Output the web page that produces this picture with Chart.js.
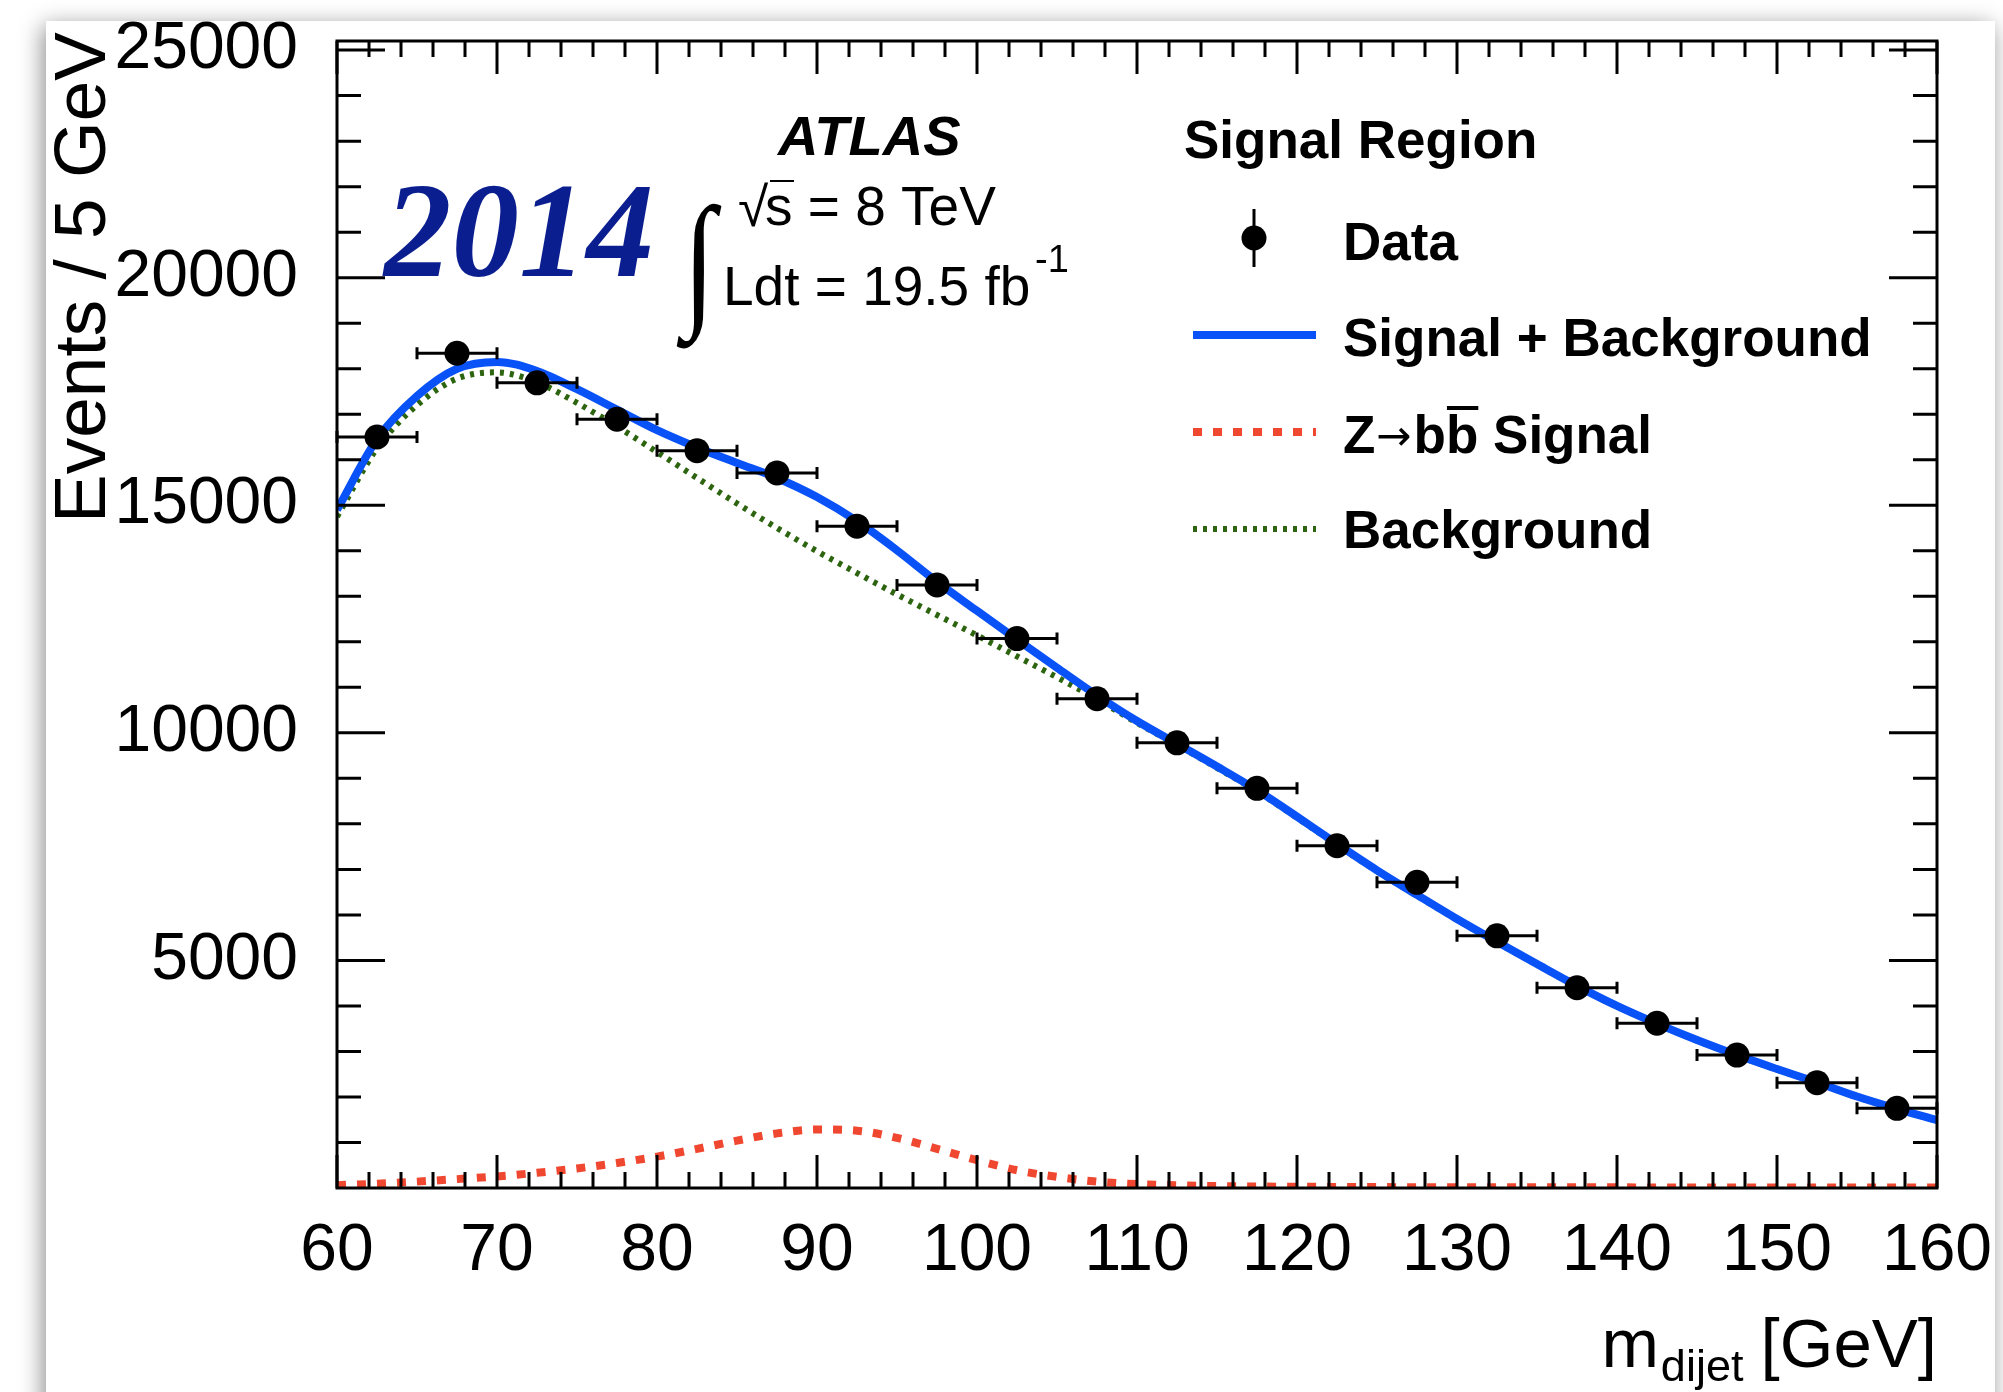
<!DOCTYPE html>
<html>
<head>
<meta charset="utf-8">
<script src="https://cdn.jsdelivr.net/npm/chart.js@4.4.1/dist/chart.umd.min.js"></script>
<style>
  html, body { margin: 0; padding: 0; background: #fff; overflow: hidden; }
  #card { position: absolute; left: 46px; top: 21px; width: 1949px; height: 1450px; background: #fff;
          box-shadow: -3px 5px 22px rgba(0,0,0,0.45); }
  #c { position: absolute; left: 0; top: 0; }
</style>
</head>
<body>
<div id="card"></div>
<canvas id="c" width="2003" height="1392"></canvas>
<script>
// data histogram, 5 GeV bins
const binCenters = [62.5, 67.5, 72.5, 77.5, 82.5, 87.5, 92.5, 97.5, 102.5, 107.5,
                    112.5, 117.5, 122.5, 127.5, 132.5, 137.5, 142.5, 147.5, 152.5, 157.5];
const dataEvents = [16500, 18340, 17690, 16890, 16200, 15710, 14540, 13250, 12070, 10750,
                    9780, 8780, 7520, 6715, 5540, 4400, 3620, 2920, 2315, 1750];
const binHalfWidth = 2.5;

// fit curves, sampled every 2.5 GeV
const fitMass = [60, 62.5, 65, 67.5, 70, 72.5, 75, 77.5, 80, 82.5, 85, 87.5, 90, 92.5, 95, 97.5,
                 100, 102.5, 105, 107.5, 110, 112.5, 115, 117.5, 120, 122.5, 125, 127.5, 130, 132.5,
                 135, 137.5, 140, 142.5, 145, 147.5, 150, 152.5, 155, 157.5, 160];
const sigPlusBkg = [14900, 16450, 17400, 18000, 18150, 17950, 17550, 17100, 16650, 16270, 15930, 15600,
                    15180, 14650, 14010, 13320, 12680, 12050, 11430, 10820, 10260, 9760, 9260, 8740,
                    8160, 7560, 6980, 6440, 5910, 5410, 4920, 4440, 4000, 3610, 3250, 2920, 2615,
                    2320, 2010, 1740, 1490];
const zbbSignal = [62, 95, 140, 195, 255, 335, 430, 550, 690, 860, 1040, 1200, 1285, 1260, 1100, 860,
                   610, 390, 245, 140, 85, 58, 42, 33, 27, 23, 20, 18, 17, 16, 15, 14, 14, 13, 13,
                   12, 12, 12, 11, 11, 11];
const backgroundFit = [14750, 16250, 17200, 17780, 17920, 17700, 17250, 16730, 16170, 15600, 15040,
                       14500, 13990, 13510, 13040, 12590, 12140, 11680, 11220, 10740, 10220, 9735,
                       9230, 8715, 8135, 7537, 6960, 6422, 5893, 5394, 4905, 4426, 3986, 3597, 3237,
                       2908, 2603, 2308, 1999, 1729, 1479];

const xTickLabels = [60, 70, 80, 90, 100, 110, 120, 130, 140, 150, 160];
const yTickLabels = [5000, 10000, 15000, 20000, 25000];

const BLUE = 'rgb(8, 82, 247)';
const RED = 'rgb(240, 72, 48)';
const GREEN = 'rgb(45, 100, 15)';
const FONT = '"Liberation Sans", Arial, sans-serif';

Chart.defaults.font.family = FONT;
Chart.defaults.color = '#000';

const pts = (xs, ys) => xs.map((x, i) => ({x: x, y: ys[i]}));

// ROOT style frame with inward ticks
const frame = {
  id: 'frame',
  afterDatasetsDraw(chart) {
    const ctx = chart.ctx;
    const xs = chart.scales.x, ys = chart.scales.y;
    const {left, right, top, bottom} = chart.chartArea;
    ctx.save();
    // error bars
    ctx.strokeStyle = '#000';
    ctx.lineWidth = 3;
    ctx.beginPath();
    binCenters.forEach((c, i) => {
      const y = ys.getPixelForValue(dataEvents[i]);
      const x1 = xs.getPixelForValue(c - binHalfWidth), x2 = xs.getPixelForValue(c + binHalfWidth);
      ctx.moveTo(x1, y); ctx.lineTo(x2, y);
      ctx.moveTo(x1, y - 6); ctx.lineTo(x1, y + 6);
      ctx.moveTo(x2, y - 6); ctx.lineTo(x2, y + 6);
    });
    ctx.stroke();

    ctx.beginPath();
    for (let v = 60; v <= 160; v += 2) {
      const px = xs.getPixelForValue(v);
      const len = (v % 10 === 0) ? 33 : 16;
      ctx.moveTo(px, bottom); ctx.lineTo(px, bottom - len);
      ctx.moveTo(px, top); ctx.lineTo(px, top + len);
    }
    for (let v = 1000; v <= 25000; v += 1000) {
      const py = ys.getPixelForValue(v);
      const len = (v % 5000 === 0) ? 48 : 24;
      ctx.moveTo(left, py); ctx.lineTo(left + len, py);
      ctx.moveTo(right, py); ctx.lineTo(right - len, py);
    }
    ctx.stroke();
    ctx.strokeRect(left, top, right - left, bottom - top);
    ctx.restore();
  },
  afterDraw(chart) {
    const ctx = chart.ctx;
    const ds = chart.data.datasets;
    ctx.save();
    ctx.fillStyle = '#000';
    ctx.textBaseline = 'alphabetic';

    // y axis title
    ctx.save();
    ctx.translate(105, 32);
    ctx.rotate(-Math.PI / 2);
    ctx.textAlign = 'right';
    ctx.font = '73px ' + FONT;
    ctx.fillText('Events / 5 GeV', 0, 0);
    ctx.restore();

    // x axis title m_dijet [GeV]
    ctx.textAlign = 'left';
    ctx.font = '69px ' + FONT;
    const wm = ctx.measureText('m').width;
    const wg = ctx.measureText(' [GeV]').width;
    ctx.font = '45px ' + FONT;
    const wd = ctx.measureText('dijet').width;
    let x0 = 1937 - wm - wd - wg;
    ctx.font = '69px ' + FONT;
    ctx.fillText('m', x0, 1367);
    ctx.font = '45px ' + FONT;
    ctx.fillText('dijet', x0 + wm + 2, 1381);
    ctx.font = '69px ' + FONT;
    ctx.fillText(' [GeV]', x0 + wm + wd, 1367);

    // year stamp
    ctx.fillStyle = '#0a1e8f';
    ctx.font = 'italic bold 135px "Liberation Serif", serif';
    ctx.fillText('2014', 384, 276);

    // ATLAS block
    ctx.fillStyle = '#000';
    ctx.font = 'italic bold 56px ' + FONT;
    ctx.fillText('ATLAS', 778, 155);
    ctx.font = '55px ' + FONT;
    ctx.fillText('\u221A', 738, 226);
    ctx.fillText('s = 8 TeV', 765, 225);
    ctx.lineWidth = 2;
    ctx.beginPath(); ctx.moveTo(770, 181); ctx.lineTo(794, 181); ctx.stroke();
    ctx.fillText('Ldt = 19.5 fb', 723, 305);
    ctx.font = '38px ' + FONT;
    ctx.fillText('-1', 1035, 272);
    ctx.save();
    ctx.translate(683, 309);
    ctx.scale(1, 1.25);
    ctx.font = '118px "Liberation Serif", serif';
    ctx.fillText('\u222B', 0, 0);
    ctx.restore();

    // legend
    const lx1 = 1193, lx2 = 1316, tx = 1343;
    ctx.font = 'bold 53px ' + FONT;
    ctx.fillText('Signal Region', 1184, 158);

    ctx.strokeStyle = '#000';
    ctx.lineWidth = 3;
    ctx.beginPath(); ctx.moveTo(1254, 209); ctx.lineTo(1254, 267); ctx.stroke();
    ctx.beginPath(); ctx.arc(1254, 238, 12.5, 0, Math.PI * 2); ctx.fill();
    ctx.fillText(ds[0].label, tx, 260);

    const sample = (d, y) => {
      ctx.save();
      ctx.strokeStyle = d.borderColor;
      ctx.lineWidth = d.borderWidth;
      ctx.setLineDash(d.borderDash || []);
      ctx.beginPath(); ctx.moveTo(lx1, y); ctx.lineTo(lx2, y); ctx.stroke();
      ctx.restore();
    };
    sample(ds[1], 335);
    ctx.fillText(ds[1].label, tx, 356);

    sample(ds[2], 432);
    let zx = tx;
    ctx.fillText('Z', zx, 453); zx += ctx.measureText('Z').width + 1;
    ctx.font = '42px "DejaVu Sans", sans-serif';
    ctx.fillText('\u2192', zx, 450); zx += ctx.measureText('\u2192').width + 2;
    ctx.font = 'bold 53px ' + FONT;
    const wb = ctx.measureText('b').width;
    ctx.fillText('bb', zx, 453);
    ctx.lineWidth = 4;
    ctx.beginPath(); ctx.moveTo(zx + wb + 1, 408); ctx.lineTo(zx + 2 * wb, 408); ctx.stroke();
    zx += 2 * wb;
    ctx.fillText(' Signal', zx, 453);

    sample(ds[3], 529);
    ctx.fillText(ds[3].label, tx, 548);
    ctx.restore();
  }
};

const chart = new Chart(document.getElementById('c'), {
  type: 'line',
  data: {
    datasets: [
      {
        label: 'Data',
        data: pts(binCenters, dataEvents),
        showLine: false,
        pointRadius: 12.5,
        pointBackgroundColor: '#000',
        pointBorderWidth: 0,
        order: 0
      },
      {
        label: 'Signal + Background',
        data: pts(fitMass, sigPlusBkg),
        borderColor: BLUE,
        borderWidth: 8,
        pointRadius: 0,
        cubicInterpolationMode: 'monotone',
        order: 2
      },
      {
        label: 'Z\u2192bb Signal',
        data: pts(fitMass, zbbSignal),
        borderColor: RED,
        borderWidth: 8,
        borderDash: [9, 11],
        pointRadius: 0,
        cubicInterpolationMode: 'monotone',
        order: 1
      },
      {
        label: 'Background',
        data: pts(fitMass, backgroundFit),
        borderColor: GREEN,
        borderWidth: 6,
        borderDash: [4, 6],
        pointRadius: 0,
        cubicInterpolationMode: 'monotone',
        order: 3
      }
    ]
  },
  options: {
    responsive: false,
    animation: false,
    events: [],
    layout: { padding: { top: 41, right: 66, left: 0, bottom: 0 } },
    plugins: { legend: { display: false }, tooltip: { enabled: false } },
    scales: {
      x: {
        type: 'linear',
        min: 60,
        max: 160,
        bounds: 'data',
        grid: { display: false },
        border: { display: false },
        afterBuildTicks: s => { s.ticks = xTickLabels.map(v => ({value: v})); },
        ticks: { font: { size: 66, lineHeight: 1 }, color: '#000', padding: 23, maxRotation: 0,
                 callback: v => String(v) },
        afterFit: s => { s.height = 204; s.paddingLeft = 0; s.paddingRight = 0; }
      },
      y: {
        type: 'linear',
        min: 0,
        max: 25200,
        bounds: 'data',
        grid: { display: false },
        border: { display: false },
        afterBuildTicks: s => { s.ticks = yTickLabels.map(v => ({value: v})); },
        ticks: { font: { size: 66, lineHeight: 1 }, color: '#000', padding: 31,
                 callback: v => String(v) },
        afterFit: s => { s.width = 337; s.paddingTop = 0; s.paddingBottom = 0; }
      }
    }
  },
  plugins: [frame]
});
</script>
</body>
</html>
